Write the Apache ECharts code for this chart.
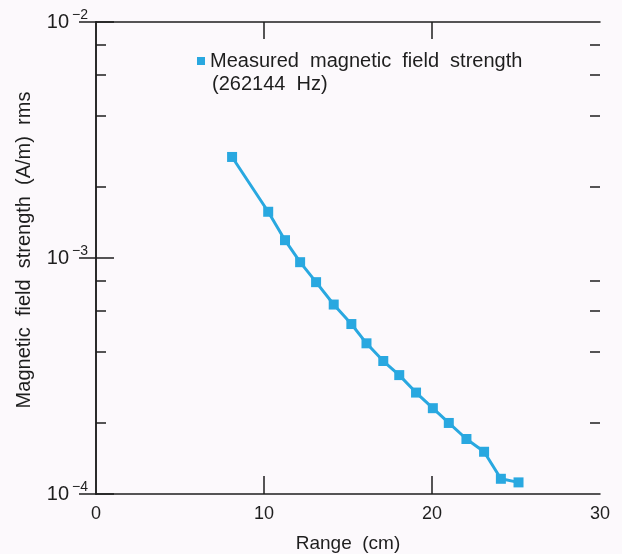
<!DOCTYPE html>
<html>
<head>
<meta charset="utf-8">
<script src="https://cdn.jsdelivr.net/npm/echarts@6/dist/echarts.min.js"></script>
<style>
  html, body { margin: 0; padding: 0; background: #fcf9fc; }
  #chart { width: 622px; height: 554px; }
</style>
</head>
<body>
<div id="chart"></div>
<script>
// values
const rangeCm = [8.1, 10.25, 11.25, 12.15, 13.1, 14.15, 15.2, 16.1, 17.1, 18.05, 19.05, 20.05, 21.0, 22.05, 23.1, 24.1, 25.15];
const fieldStrength = [2.68e-3, 1.57e-3, 1.19e-3, 9.6e-4, 7.9e-4, 6.35e-4, 5.25e-4, 4.35e-4, 3.66e-4, 3.19e-4, 2.69e-4, 2.31e-4, 2.0e-4, 1.71e-4, 1.51e-4, 1.16e-4, 1.12e-4];
const xTickValues = [0, 10, 20, 30];
const yMinorTicks = [2e-4, 4e-4, 6e-4, 8e-4, 2e-3, 4e-3, 6e-3, 8e-3];
const seriesName = 'Measured  magnetic  field  strength';
const seriesNote = '(262144  Hz)';

const font = '"Liberation Sans", Arial, sans-serif';
const ink = '#1e1e1e';
const blue = '#29a8e0';

const chart = echarts.init(document.getElementById('chart'));

const minorLog = yMinorTicks.map((v) => Math.log10(v));

const option = {
  backgroundColor: '#fcf9fc',
  animation: false,
  textStyle: { fontFamily: font, color: ink },
  grid: { left: 96, right: 22, top: 22, bottom: 60, containLabel: false, outerBoundsMode: 'none' },
  title: {
    text: seriesNote,
    left: 207,
    top: 69,
    textStyle: { fontFamily: font, fontSize: 20, fontWeight: 'normal', color: ink }
  },
  legend: {
    data: [seriesName],
    left: 192,
    top: 46,
    icon: 'rect',
    itemWidth: 8,
    itemHeight: 8,
    textStyle: { fontFamily: font, fontSize: 20, color: ink }
  },
  xAxis: [
    {
      type: 'value',
      min: 0,
      max: 30,
      interval: 10,
      name: 'Range  (cm)',
      nameLocation: 'middle',
      nameGap: 40,
      nameTextStyle: { fontSize: 19, color: ink },
      axisLine: { lineStyle: { color: ink, width: 1.5 } },
      axisTick: { inside: true, length: 18, lineStyle: { color: ink, width: 1.5 }, customValues: [10, 20] },
      axisLabel: { fontSize: 18, color: ink, margin: 11, customValues: xTickValues },
      splitLine: { show: false }
    },
    {
      type: 'value',
      position: 'top',
      min: 0,
      max: 30,
      interval: 10,
      axisLine: { lineStyle: { color: ink, width: 1.5 } },
      axisTick: { inside: true, length: 17, lineStyle: { color: ink, width: 1.5 }, customValues: [10, 20] },
      axisLabel: { show: false },
      splitLine: { show: false }
    }
  ],
  yAxis: [
    {
      type: 'log',
      logBase: 10,
      min: 1e-4,
      max: 1e-2,
      name: 'Magnetic  field  strength  (A/m)  rms',
      nameLocation: 'middle',
      nameGap: 62,
      nameTextStyle: { fontSize: 20, color: ink, padding: [0, 0, 0, 16] },
      axisLine: { lineStyle: { color: ink, width: 1.5 } },
      axisTick: { inside: true, length: 18, lineStyle: { color: ink, width: 1.5 } },
      axisLabel: {
        margin: 8,
        formatter: (v) => '{b|10}{s|−' + Math.abs(Math.round(Math.log10(v))) + '}',
        rich: {
          b: { fontSize: 20, fontFamily: font, color: ink },
          s: { fontSize: 14, fontFamily: font, color: ink, padding: [0, 0, 14, 3] }
        }
      },
      splitLine: { show: false }
    },
    {
      type: 'log',
      logBase: 10,
      min: 1e-4,
      max: 1e-2,
      position: 'right',
      axisLine: { lineStyle: { color: ink, width: 1.5 } },
      axisTick: { inside: true, length: 17, lineStyle: { color: ink, width: 1.5 } },
      axisLabel: { show: false },
      splitLine: { show: false }
    },
    {
      type: 'value',
      min: -4,
      max: -2,
      position: 'left',
      axisLine: { show: false },
      axisTick: { inside: true, length: 10, lineStyle: { color: ink, width: 1.5 }, customValues: minorLog },
      axisLabel: { show: false },
      splitLine: { show: false }
    },
    {
      type: 'value',
      min: -4,
      max: -2,
      position: 'right',
      axisLine: { show: false },
      axisTick: { inside: true, length: 10, lineStyle: { color: ink, width: 1.5 }, customValues: minorLog },
      axisLabel: { show: false },
      splitLine: { show: false }
    }
  ],
  series: [
    {
      name: seriesName,
      type: 'line',
      xAxisIndex: 0,
      yAxisIndex: 0,
      data: rangeCm.map((x, i) => [x, fieldStrength[i]]),
      symbol: 'rect',
      symbolSize: 10,
      color: blue,
      lineStyle: { color: blue, width: 3 },
      itemStyle: { color: blue }
    }
  ]
};

chart.setOption(option);
</script>
</body>
</html>
